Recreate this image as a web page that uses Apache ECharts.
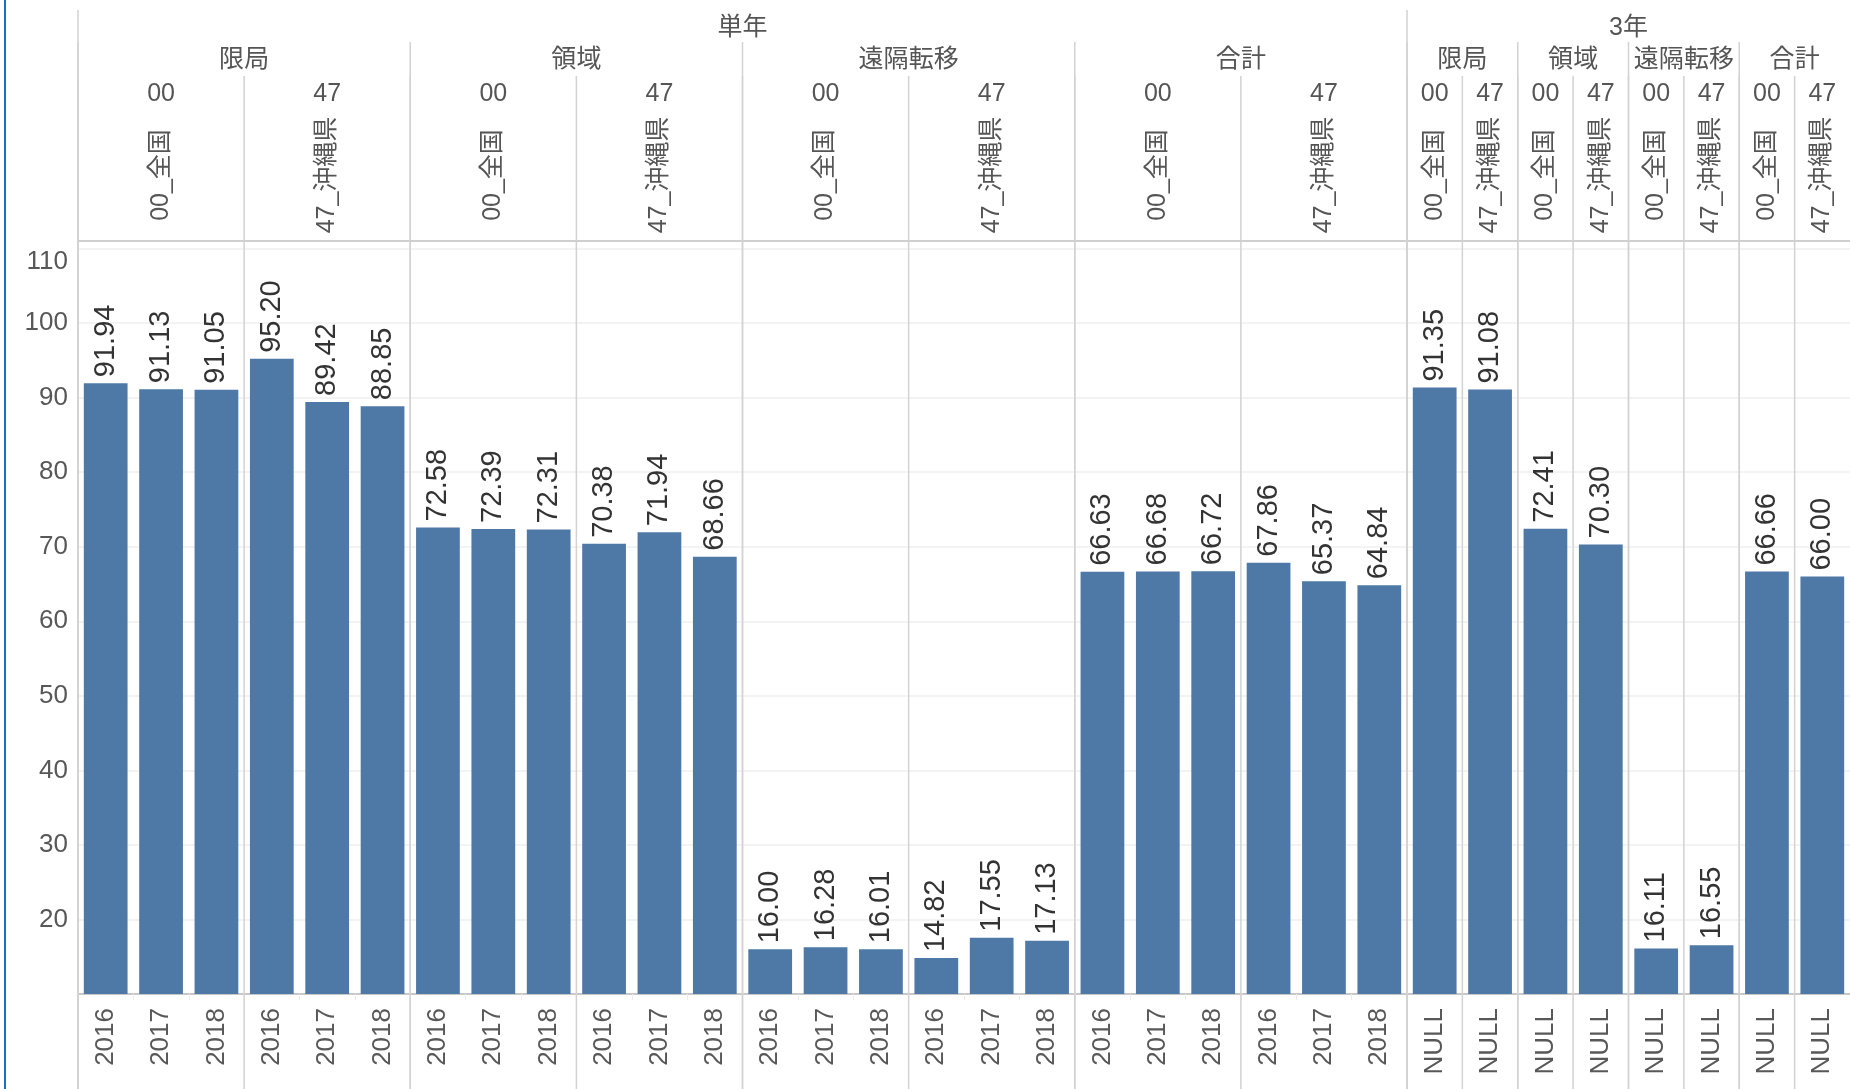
<!DOCTYPE html>
<html><head><meta charset="utf-8">
<script src="https://cdn.jsdelivr.net/npm/echarts@6/dist/echarts.min.js"></script>
<style>html,body{margin:0;padding:0;background:#fff}#chart{width:1850px;height:1089px}</style>
</head><body><div id="chart"></div>
<script>
// ---- data ----
const periods = ['単年', '3年'];
const measures = ['限局', '領域', '遠隔転移', '合計'];
const prefCodes = ['00', '47'];
const prefNames = ['00_全国', '47_沖縄県'];
const years = ['2016', '2017', '2018'];
const threeYearLabel = 'NULL';
// 単年: [00_全国, 47_沖縄県] x [2016, 2017, 2018]
const singleLocal    = [[91.94, 91.13, 91.05], [95.20, 89.42, 88.85]];
const singleRegional = [[72.58, 72.39, 72.31], [70.38, 71.94, 68.66]];
const singleDistant  = [[16.00, 16.28, 16.01], [14.82, 17.55, 17.13]];
const singleTotal    = [[66.63, 66.68, 66.72], [67.86, 65.37, 64.84]];
// 3年: [00_全国, 47_沖縄県]
const threeLocal    = [91.35, 91.08];
const threeRegional = [72.41, 70.30];
const threeDistant  = [16.11, 16.55];
const threeTotal    = [66.66, 66.00];
const yMin = 10, yMax = 110, yStep = 10;

// ---- build categories + header cells ----
const singleSets = [singleLocal, singleRegional, singleDistant, singleTotal];
const threeSets = [threeLocal, threeRegional, threeDistant, threeTotal];
const cells = [];
const header = [];
let idx = 0;
periods.forEach((p, pi) => {
  const pStart = idx;
  measures.forEach((m, mi) => {
    const mStart = idx;
    prefCodes.forEach((code, ci) => {
      const cStart = idx;
      if (pi === 0) {
        years.forEach((y, yi) => {
          cells.push({ key: [p, m, code, y].join('|'), label: y, value: singleSets[mi][ci][yi] });
          idx++;
        });
      } else {
        cells.push({ key: [p, m, code, threeYearLabel].join('|'), label: threeYearLabel, value: threeSets[mi][ci] });
        idx++;
      }
      header.push({ level: 2, start: cStart, end: idx - 1, text: code });
      header.push({ level: 3, start: cStart, end: idx - 1, text: prefNames[ci] });
    });
    header.push({ level: 1, start: mStart, end: idx - 1, text: m });
  });
  header.push({ level: 0, start: pStart, end: idx - 1, text: p });
});

const FONT = "'Liberation Sans', 'Noto Sans CJK JP', sans-serif";
const TEXT_Y = [28, 60, 94, 175];
const LINE_TOP = [10, 42, 76, null];
const HEADER_BOTTOM = 241;
const LINE_COLOR = '#d2d2d2';

const chart = echarts.init(document.getElementById('chart'), null, { renderer: 'canvas' });
const H = 1089;

chart.setOption({
  animation: false,
  backgroundColor: '#ffffff',
  graphic: [{ type: 'rect', left: 4, top: 0, shape: { width: 2, height: H }, style: { fill: '#1670c9' }, silent: true }],
  grid: { left: 78, right: 0, top: 248.5, bottom: 95, containLabel: false },
  xAxis: {
    type: 'category',
    data: cells.map(c => c.key),
    axisLine: { show: true, lineStyle: { color: '#c8c8c8', width: 2 } },
    axisTick: { show: true, interval: 0, length: 6, lineStyle: { color: '#ececec' } },
    axisLabel: {
      interval: 0, rotate: 90, margin: 14,
      fontSize: 26, color: '#585858', fontFamily: FONT,
      formatter: (v, i) => cells[i].label
    }
  },
  yAxis: {
    type: 'value', min: yMin, max: yMax, interval: yStep,
    axisLine: { show: false }, axisTick: { show: false },
    splitLine: { lineStyle: { color: '#efefef', width: 1.5 } },
    axisLabel: {
      fontSize: 26, color: '#585858', fontFamily: FONT, margin: 10,
      showMinLabel: false, verticalAlignMaxLabel: 'top'
    }
  },
  series: [
    {
      type: 'custom',
      silent: true,
      clip: false,
      z: 1,
      data: header.map(h => [h.start, h.end, 50]),
      encode: { x: [0, 1], y: 2 },
      renderItem: function (params, api) {
        const h = header[params.dataIndex];
        const band = api.size([1, 0])[0];
        const x0 = api.coord([h.start, 50])[0] - band / 2;
        const x1 = api.coord([h.end, 50])[0] + band / 2;
        const cx = (x0 + x1) / 2;
        const children = [];
        if (h.level < 3) {
          children.push({
            type: 'text', x: cx, y: TEXT_Y[h.level],
            style: { text: h.text, fill: '#555', font: '25px ' + FONT, align: 'center', verticalAlign: 'middle' }
          });
        } else {
          children.push({
            type: 'text', x: cx, y: TEXT_Y[3], rotation: Math.PI / 2,
            style: { text: h.text, fill: '#555', font: '25px ' + FONT, align: 'center', verticalAlign: 'middle' }
          });
        }
        if (LINE_TOP[h.level] != null) {
          children.push({
            type: 'line',
            shape: { x1: x0, y1: LINE_TOP[h.level], x2: x0, y2: H },
            style: { stroke: LINE_COLOR, lineWidth: 1.5 }
          });
        }
        if (h.level === 0) {
          children.push({
            type: 'line',
            shape: { x1: x0, y1: HEADER_BOTTOM, x2: x1, y2: HEADER_BOTTOM },
            style: { stroke: '#cfcfcf', lineWidth: 2 }
          });
        }
        return { type: 'group', children: children };
      }
    },
    {
      type: 'bar',
      z: 2,
      data: cells.map(c => c.value),
      barCategoryGap: '21%',
      itemStyle: { color: '#4e79a7' },
      label: {
        show: true, position: 'top', rotate: 90, align: 'left', verticalAlign: 'middle',
        distance: 6, fontSize: 29, color: '#333', fontFamily: FONT,
        formatter: p => p.value.toFixed(2)
      }
    }
  ]
});
</script>
</body></html>
